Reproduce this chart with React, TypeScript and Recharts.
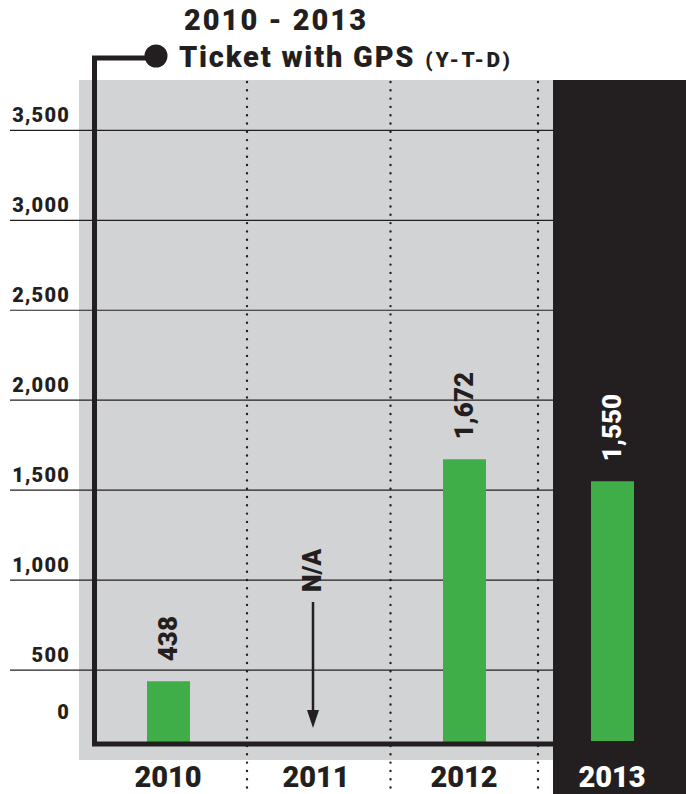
import React from 'react';
import { BarChart, Bar, XAxis, YAxis, CartesianGrid, LabelList, ReferenceLine } from 'recharts';

// ---- data ----
const years = ['2010', '2011', '2012', '2013'];
const tickets: (number | null)[] = [438, null, 1672, 1550];
const yTicks = [0, 500, 1000, 1500, 2000, 2500, 3000, 3500];
const naYear = '2011';
const naText = 'N/A';
const highlightYear = '2013';
const titleLine1 = '2010 - 2013';
const titleLine2 = 'Ticket with GPS';
const titleSuffix = '(Y-T-D)';

const data = years.map((year, i) => ({ year, tickets: tickets[i] }));

// ---- styles ----
const W = 686;
const H = 794;
const GRAY = '#d1d3d4';
const INK = '#231f20';
const GREEN = '#3fae49';
const FONT = 'Roboto, "Noto Sans", sans-serif';
const WEIGHT = 900;

const fmt = (v: number) => v.toLocaleString('en-US');

const YTick = (props: any) => {
  const { y, payload } = props;
  const v = Number(payload.value);
  return (
    <text
      x={70}
      y={v === 0 ? y - 41 : y - 8}
      textAnchor="end"
      fontFamily={FONT}
      fontWeight={WEIGHT}
      fontSize={20}
      letterSpacing={1.2}
      fill={INK}
    >
      {fmt(v)}
    </text>
  );
};

const XTick = (props: any) => {
  const { x, y, payload } = props;
  return (
    <text
      x={x}
      y={y + 27}
      textAnchor="middle"
      fontFamily={FONT}
      fontWeight={WEIGHT}
      fontSize={29}
      fill={payload.value === highlightYear ? '#ffffff' : INK}
    >
      {payload.value}
    </text>
  );
};

const BarValueLabel = (props: any) => {
  const vb = props.viewBox || {};
  const x = Number(props.x ?? vb.x);
  const y = Number(props.y ?? vb.y);
  const width = Number(props.width ?? vb.width);
  const { value } = props;
  if (value === null || value === undefined || isNaN(x)) return null;
  const cx = x + width / 2;
  const sy = y - 20;
  const row = data.find((d) => d.tickets === Number(value));
  const fill = row && row.year === highlightYear ? '#ffffff' : INK;
  return (
    <text
      x={cx}
      y={sy}
      transform={`rotate(-90 ${cx} ${sy})`}
      textAnchor="start"
      dominantBaseline="central"
      fontFamily={FONT}
      fontWeight={WEIGHT}
      fontSize={26}
      fill={fill}
    >
      {fmt(Number(value))}
    </text>
  );
};

const NaMarker = (props: any) => {
  const vb = props.viewBox || {};
  const cx = Number(vb.x) - 3;
  const bottom = Number(vb.y) + Number(vb.height);
  if (isNaN(cx) || isNaN(bottom)) return null;
  const ty = bottom - 168;
  return (
    <g>
      <text
        x={cx - 1}
        y={ty}
        transform={`rotate(-90 ${cx - 1} ${ty})`}
        textAnchor="start"
        dominantBaseline="central"
        fontFamily={FONT}
        fontWeight={WEIGHT}
        fontSize={25}
        fill={INK}
      >
        {naText}
      </text>
      <line x1={cx} x2={cx} y1={bottom - 158} y2={bottom - 46} stroke={INK} strokeWidth={2.5} />
      <polygon
        points={`${cx - 6},${bottom - 50} ${cx + 6},${bottom - 50} ${cx},${bottom - 32}`}
        fill={INK}
      />
    </g>
  );
};

export default function App() {
  return (
    <div style={{ position: 'absolute', left: 0, top: 0, width: W, height: H, overflow: 'hidden', background: '#ffffff' }}>
      {/* background panels */}
      <div style={{ position: 'absolute', left: 79, top: 80, width: 474, height: 680, background: GRAY }} />
      <div style={{ position: 'absolute', left: 553, top: 80, width: 133, height: 714, background: INK }} />

      <div style={{ position: 'absolute', left: 0, top: 0 }}>
        <BarChart
          width={W}
          height={H}
          data={data}
          margin={{ top: 80, right: 0, bottom: 0, left: 34 }}
        >
          <CartesianGrid
            vertical={false}
            x={10}
            width={543}
            stroke={INK}
            strokeWidth={1.2}
            horizontalValues={yTicks.filter((t) => t > 0)}
          />
          <YAxis
            type="number"
            domain={[0, 3780]}
            ticks={yTicks}
            width={60}
            axisLine={false}
            tickLine={false}
            tick={<YTick />}
            interval={0}
          />
          <XAxis
            dataKey="year"
            height={34}
            axisLine={false}
            tickLine={false}
            tickSize={0}
            tickMargin={0}
            tick={<XTick />}
            interval={0}
          />
          <Bar dataKey="tickets" fill={GREEN} barSize={43} isAnimationActive={false}>
            <LabelList dataKey="tickets" content={BarValueLabel} />
          </Bar>
          <ReferenceLine x={naYear} stroke="none" label={<NaMarker />} />
        </BarChart>
      </div>

      {/* foreground frame, separators, title */}
      <svg
        width={W}
        height={H}
        style={{ position: 'absolute', left: 0, top: 0, pointerEvents: 'none' }}
      >
        <rect x={79} y={746} width={474} height={14} fill={GRAY} />
        <rect x={553} y={741} width={133} height={19} fill={INK} />
        {[247, 390.5, 538].map((x) => (
          <line
            key={x}
            x1={x}
            x2={x}
            y1={82}
            y2={794}
            stroke={INK}
            strokeWidth={2.4}
            strokeLinecap="round"
            strokeDasharray="0 8.3"
          />
        ))}
        <path d="M150 58 H94.5 V744 H553" fill="none" stroke={INK} strokeWidth={5} strokeLinejoin="miter" />
        <circle cx={156} cy={56} r={11.5} fill={INK} />
        <text x={184} y={30} fontFamily={FONT} fontWeight={WEIGHT} fontSize={29} letterSpacing={2} fill={INK}>
          {titleLine1}
        </text>
        <text x={179} y={67} fontFamily={FONT} fontWeight={WEIGHT} fontSize={29} letterSpacing={1.8} fill={INK}>
          {titleLine2}
          <tspan fontSize={21} letterSpacing={2.5} dx={10}>{titleSuffix}</tspan>
        </text>
      </svg>
    </div>
  );
}
